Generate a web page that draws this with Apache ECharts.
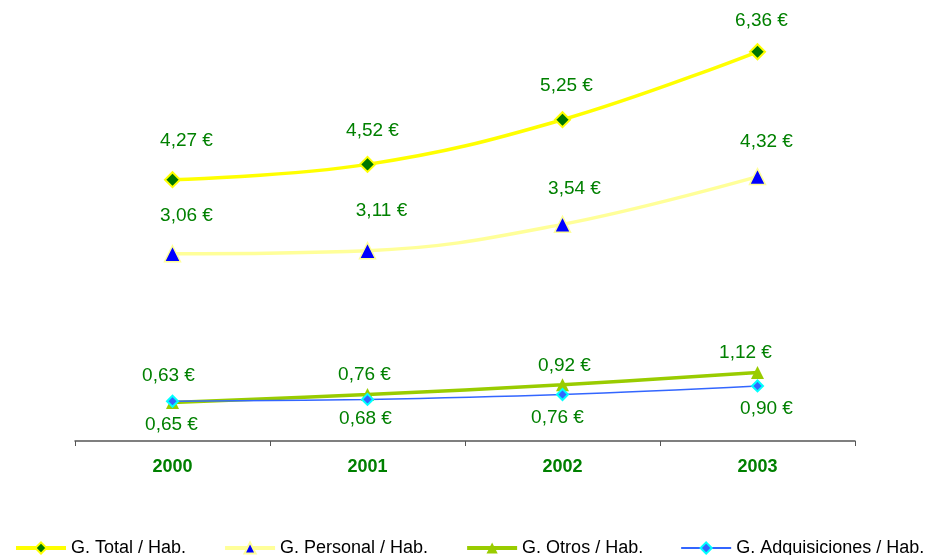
<!DOCTYPE html>
<html>
<head>
<meta charset="utf-8">
<script src="https://cdn.jsdelivr.net/npm/echarts@6/dist/echarts.min.js"></script>
<style>html,body{margin:0;padding:0;background:#fff;}#c{width:937px;height:555px;}</style>
</head>
<body>
<div id="c"></div>
<script>
const years = ['2000', '2001', '2002', '2003'];
const total = [4.27, 4.52, 5.25, 6.36];
const personal = [3.06, 3.11, 3.54, 4.32];
const otros = [0.63, 0.76, 0.92, 1.12];
const adquisiciones = [0.65, 0.68, 0.76, 0.90];
const seriesNames = ['G. Total / Hab.', 'G. Personal / Hab.', 'G. Otros / Hab.', 'G. Adquisiciones / Hab.'];

// label placement (pixels from each point), styling only
const labelOffsets = [
  [[14, -39], [5, -34], [4, -34], [4, -31]],
  [[14, -38], [14, -40], [12, -36], [9, -35]],
  [[-4, -27], [-3, -20], [2, -19], [-12, -20]],
  [[-1, 24], [-2, 19], [-5, 23], [9, 23]]
];
const legendLineWidths = [4, 4, 4, 2];

const FONT = 'Liberation Sans, Arial, sans-serif';
const fmt = p => p.value.toFixed(2).replace('.', ',') + ' €';

function withLabels(values, si) {
  return values.map((v, i) => ({
    value: v,
    label: { position: 'inside', offset: labelOffsets[si][i] }
  }));
}
const labelBase = { show: true, color: '#008000', fontFamily: FONT, fontSize: 19, formatter: fmt, position: 'inside' };

const chart = echarts.init(document.getElementById('c'));
chart.setOption({
  animation: false,
  grid: { left: 75, right: 82, top: 12.6, bottom: 114 },
  xAxis: {
    type: 'category', data: years, boundaryGap: true,
    axisLine: { lineStyle: { color: '#555', width: 1.5 } },
    axisTick: { show: true, length: 5, lineStyle: { color: '#555' } },
    axisLabel: { color: '#008000', fontWeight: 'bold', fontSize: 18, margin: 17, fontFamily: FONT }
  },
  yAxis: { type: 'value', min: 0, max: 7, show: false, splitLine: { show: false } },
  legend: {
    left: 9, top: 534, itemWidth: 50, itemHeight: 14, itemGap: 37,
    textStyle: { color: '#000', fontSize: 18, fontFamily: FONT },
    data: seriesNames.map((n, i) => ({ name: n, lineStyle: { width: legendLineWidths[i] } }))
  },
  series: [
    {
      name: seriesNames[0], type: 'line', data: withLabels(total, 0), smooth: 0.4,
      lineStyle: { color: '#FFFF00', width: 3.5 },
      symbol: 'diamond', symbolSize: 15,
      itemStyle: { color: '#007700', borderColor: '#FFFF00', borderWidth: 2 },
      label: labelBase
    },
    {
      name: seriesNames[1], type: 'line', data: withLabels(personal, 1), smooth: 0.4,
      lineStyle: { color: '#FFFF99', width: 3.5 },
      symbol: 'triangle', symbolSize: 16,
      itemStyle: { color: '#0000FF', borderColor: '#FFFF99', borderWidth: 1.5 },
      label: labelBase
    },
    {
      name: seriesNames[2], type: 'line', data: withLabels(otros, 2), smooth: 0.4,
      lineStyle: { color: '#99CC00', width: 3.5 },
      symbol: 'triangle', symbolSize: 13,
      itemStyle: { color: '#99CC00', borderColor: '#99CC00', borderWidth: 0 },
      label: labelBase
    },
    {
      name: seriesNames[3], type: 'line', data: withLabels(adquisiciones, 3), smooth: 0.4,
      lineStyle: { color: '#3366FF', width: 1.5 },
      symbol: 'diamond', symbolSize: 11,
      itemStyle: { color: '#3366FF', borderColor: '#00FFFF', borderWidth: 2 },
      label: labelBase
    }
  ]
});
</script>
</body>
</html>
